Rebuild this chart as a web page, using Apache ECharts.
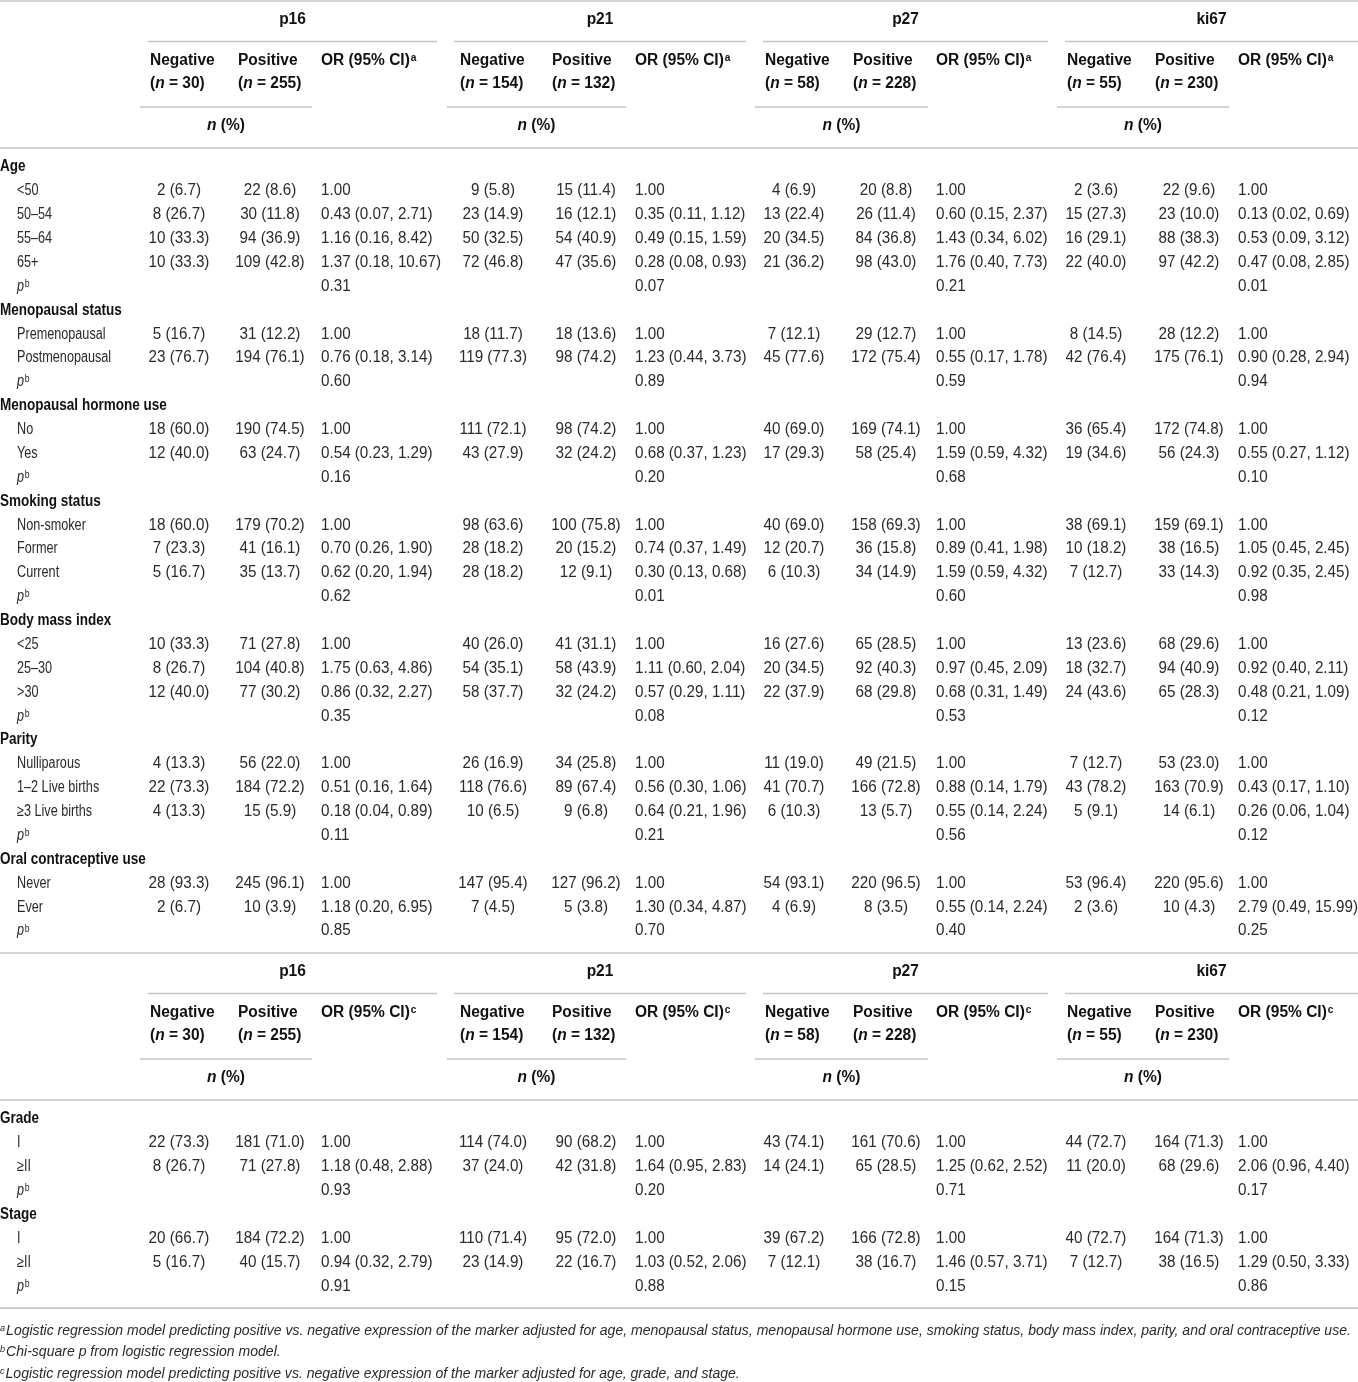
<!DOCTYPE html>
<html>
<head>
<meta charset="utf-8">
<script src="https://cdn.jsdelivr.net/npm/echarts@6/dist/echarts.min.js"></script>
<style>
html, body { margin: 0; padding: 0; background: #fff; }
#chart { width: 1358px; height: 1382px; }
</style>
</head>
<body>
<div id="chart"></div>
<script>
// ---- data ----
const markers = ['p16', 'p21', 'p27', 'ki67']
const negN = [30, 154, 58, 55]
const posN = [255, 132, 228, 230]

const groupNames = ['Age', 'Menopausal status', 'Menopausal hormone use', 'Smoking status',
	'Body mass index', 'Parity', 'Oral contraceptive use', 'Grade', 'Stage']

const rowsA = ['Age', '<50', '50–54', '55–64', '65+', 'p',
	'Menopausal status', 'Premenopausal', 'Postmenopausal', 'p',
	'Menopausal hormone use', 'No', 'Yes', 'p',
	'Smoking status', 'Non-smoker', 'Former', 'Current', 'p',
	'Body mass index', '<25', '25–30', '>30', 'p',
	'Parity', 'Nulliparous', '1–2 Live births', '≥3 Live births', 'p',
	'Oral contraceptive use', 'Never', 'Ever', 'p']
const rowsB = ['Grade', 'I', '≥II', 'p', 'Stage', 'I', '≥II', 'p']

const p16NegA = ['', '2 (6.7)', '8 (26.7)', '10 (33.3)', '10 (33.3)', '', '', '5 (16.7)', '23 (76.7)', '', '', '18 (60.0)', '12 (40.0)', '', '', '18 (60.0)', '7 (23.3)', '5 (16.7)', '', '', '10 (33.3)', '8 (26.7)', '12 (40.0)', '', '', '4 (13.3)', '22 (73.3)', '4 (13.3)', '', '', '28 (93.3)', '2 (6.7)', '']
const p16PosA = ['', '22 (8.6)', '30 (11.8)', '94 (36.9)', '109 (42.8)', '', '', '31 (12.2)', '194 (76.1)', '', '', '190 (74.5)', '63 (24.7)', '', '', '179 (70.2)', '41 (16.1)', '35 (13.7)', '', '', '71 (27.8)', '104 (40.8)', '77 (30.2)', '', '', '56 (22.0)', '184 (72.2)', '15 (5.9)', '', '', '245 (96.1)', '10 (3.9)', '']
const p16OrA = ['', '1.00', '0.43 (0.07, 2.71)', '1.16 (0.16, 8.42)', '1.37 (0.18, 10.67)', '0.31', '', '1.00', '0.76 (0.18, 3.14)', '0.60', '', '1.00', '0.54 (0.23, 1.29)', '0.16', '', '1.00', '0.70 (0.26, 1.90)', '0.62 (0.20, 1.94)', '0.62', '', '1.00', '1.75 (0.63, 4.86)', '0.86 (0.32, 2.27)', '0.35', '', '1.00', '0.51 (0.16, 1.64)', '0.18 (0.04, 0.89)', '0.11', '', '1.00', '1.18 (0.20, 6.95)', '0.85']

const p21NegA = ['', '9 (5.8)', '23 (14.9)', '50 (32.5)', '72 (46.8)', '', '', '18 (11.7)', '119 (77.3)', '', '', '111 (72.1)', '43 (27.9)', '', '', '98 (63.6)', '28 (18.2)', '28 (18.2)', '', '', '40 (26.0)', '54 (35.1)', '58 (37.7)', '', '', '26 (16.9)', '118 (76.6)', '10 (6.5)', '', '', '147 (95.4)', '7 (4.5)', '']
const p21PosA = ['', '15 (11.4)', '16 (12.1)', '54 (40.9)', '47 (35.6)', '', '', '18 (13.6)', '98 (74.2)', '', '', '98 (74.2)', '32 (24.2)', '', '', '100 (75.8)', '20 (15.2)', '12 (9.1)', '', '', '41 (31.1)', '58 (43.9)', '32 (24.2)', '', '', '34 (25.8)', '89 (67.4)', '9 (6.8)', '', '', '127 (96.2)', '5 (3.8)', '']
const p21OrA = ['', '1.00', '0.35 (0.11, 1.12)', '0.49 (0.15, 1.59)', '0.28 (0.08, 0.93)', '0.07', '', '1.00', '1.23 (0.44, 3.73)', '0.89', '', '1.00', '0.68 (0.37, 1.23)', '0.20', '', '1.00', '0.74 (0.37, 1.49)', '0.30 (0.13, 0.68)', '0.01', '', '1.00', '1.11 (0.60, 2.04)', '0.57 (0.29, 1.11)', '0.08', '', '1.00', '0.56 (0.30, 1.06)', '0.64 (0.21, 1.96)', '0.21', '', '1.00', '1.30 (0.34, 4.87)', '0.70']

const p27NegA = ['', '4 (6.9)', '13 (22.4)', '20 (34.5)', '21 (36.2)', '', '', '7 (12.1)', '45 (77.6)', '', '', '40 (69.0)', '17 (29.3)', '', '', '40 (69.0)', '12 (20.7)', '6 (10.3)', '', '', '16 (27.6)', '20 (34.5)', '22 (37.9)', '', '', '11 (19.0)', '41 (70.7)', '6 (10.3)', '', '', '54 (93.1)', '4 (6.9)', '']
const p27PosA = ['', '20 (8.8)', '26 (11.4)', '84 (36.8)', '98 (43.0)', '', '', '29 (12.7)', '172 (75.4)', '', '', '169 (74.1)', '58 (25.4)', '', '', '158 (69.3)', '36 (15.8)', '34 (14.9)', '', '', '65 (28.5)', '92 (40.3)', '68 (29.8)', '', '', '49 (21.5)', '166 (72.8)', '13 (5.7)', '', '', '220 (96.5)', '8 (3.5)', '']
const p27OrA = ['', '1.00', '0.60 (0.15, 2.37)', '1.43 (0.34, 6.02)', '1.76 (0.40, 7.73)', '0.21', '', '1.00', '0.55 (0.17, 1.78)', '0.59', '', '1.00', '1.59 (0.59, 4.32)', '0.68', '', '1.00', '0.89 (0.41, 1.98)', '1.59 (0.59, 4.32)', '0.60', '', '1.00', '0.97 (0.45, 2.09)', '0.68 (0.31, 1.49)', '0.53', '', '1.00', '0.88 (0.14, 1.79)', '0.55 (0.14, 2.24)', '0.56', '', '1.00', '0.55 (0.14, 2.24)', '0.40']

const ki67NegA = ['', '2 (3.6)', '15 (27.3)', '16 (29.1)', '22 (40.0)', '', '', '8 (14.5)', '42 (76.4)', '', '', '36 (65.4)', '19 (34.6)', '', '', '38 (69.1)', '10 (18.2)', '7 (12.7)', '', '', '13 (23.6)', '18 (32.7)', '24 (43.6)', '', '', '7 (12.7)', '43 (78.2)', '5 (9.1)', '', '', '53 (96.4)', '2 (3.6)', '']
const ki67PosA = ['', '22 (9.6)', '23 (10.0)', '88 (38.3)', '97 (42.2)', '', '', '28 (12.2)', '175 (76.1)', '', '', '172 (74.8)', '56 (24.3)', '', '', '159 (69.1)', '38 (16.5)', '33 (14.3)', '', '', '68 (29.6)', '94 (40.9)', '65 (28.3)', '', '', '53 (23.0)', '163 (70.9)', '14 (6.1)', '', '', '220 (95.6)', '10 (4.3)', '']
const ki67OrA = ['', '1.00', '0.13 (0.02, 0.69)', '0.53 (0.09, 3.12)', '0.47 (0.08, 2.85)', '0.01', '', '1.00', '0.90 (0.28, 2.94)', '0.94', '', '1.00', '0.55 (0.27, 1.12)', '0.10', '', '1.00', '1.05 (0.45, 2.45)', '0.92 (0.35, 2.45)', '0.98', '', '1.00', '0.92 (0.40, 2.11)', '0.48 (0.21, 1.09)', '0.12', '', '1.00', '0.43 (0.17, 1.10)', '0.26 (0.06, 1.04)', '0.12', '', '1.00', '2.79 (0.49, 15.99)', '0.25']

const p16NegB = ['', '22 (73.3)', '8 (26.7)', '', '', '20 (66.7)', '5 (16.7)', '']
const p16PosB = ['', '181 (71.0)', '71 (27.8)', '', '', '184 (72.2)', '40 (15.7)', '']
const p16OrB = ['', '1.00', '1.18 (0.48, 2.88)', '0.93', '', '1.00', '0.94 (0.32, 2.79)', '0.91']
const p21NegB = ['', '114 (74.0)', '37 (24.0)', '', '', '110 (71.4)', '23 (14.9)', '']
const p21PosB = ['', '90 (68.2)', '42 (31.8)', '', '', '95 (72.0)', '22 (16.7)', '']
const p21OrB = ['', '1.00', '1.64 (0.95, 2.83)', '0.20', '', '1.00', '1.03 (0.52, 2.06)', '0.88']
const p27NegB = ['', '43 (74.1)', '14 (24.1)', '', '', '39 (67.2)', '7 (12.1)', '']
const p27PosB = ['', '161 (70.6)', '65 (28.5)', '', '', '166 (72.8)', '38 (16.7)', '']
const p27OrB = ['', '1.00', '1.25 (0.62, 2.52)', '0.71', '', '1.00', '1.46 (0.57, 3.71)', '0.15']
const ki67NegB = ['', '44 (72.7)', '11 (20.0)', '', '', '40 (72.7)', '7 (12.7)', '']
const ki67PosB = ['', '164 (71.3)', '68 (29.6)', '', '', '164 (71.3)', '38 (16.5)', '']
const ki67OrB = ['', '1.00', '2.06 (0.96, 4.40)', '0.17', '', '1.00', '1.29 (0.50, 3.33)', '0.86']

const footnotes = [
	['a', 'Logistic regression model predicting positive vs. negative expression of the marker adjusted for age, menopausal status, menopausal hormone use, smoking status, body mass index, parity, and oral contraceptive use.'],
	['b', 'Chi-square p from logistic regression model.'],
	['c', 'Logistic regression model predicting positive vs. negative expression of the marker adjusted for age, grade, and stage.'],
]

// ---- layout (pixels in a 1358 x 1382 frame) ----
const W = 1358
const H = 1382
const FONT = '"Liberation Sans", Arial, Helvetica, sans-serif'
const ROW_H = 23.875
const groupLine = [[148, 437], [454, 746], [763, 1048], [1065, 1358]]
const subLine = [[140, 312], [447, 626], [755, 928], [1057, 1229]]
const negHeadX = [150, 460, 765, 1067]
const posHeadX = [238, 552, 853, 1155]
const orX = [321, 635, 936, 1238]
const negMidX = [179, 493, 794, 1096]
const posMidX = [270, 586, 886, 1189]

const sections = [
	{ top: 1, rows: rowsA, sup: 'a', cols: [[p16NegA, p16PosA, p16OrA], [p21NegA, p21PosA, p21OrA], [p27NegA, p27PosA, p27OrA], [ki67NegA, ki67PosA, ki67OrA]] },
	{ top: 953, rows: rowsB, sup: 'c', cols: [[p16NegB, p16PosB, p16OrB], [p21NegB, p21PosB, p21OrB], [p27NegB, p27PosB, p27OrB], [ki67NegB, ki67PosB, ki67OrB]] },
]

const cells = []
const rules = []

function addText(x, y, text, kind, align) {
	cells.push({ x, y, text, kind, align: align || 'left' })
}

sections.forEach((sec) => {
	const t = sec.top
	rules.push([0, t, W])
	markers.forEach((m, k) => {
		const g = groupLine[k]
		const s = subLine[k]
		addText((g[0] + g[1]) / 2, t + 19, m, 'title', 'center')
		rules.push([g[0], t + 40.5, g[1]])
		addText(negHeadX[k], t + 60, 'Negative', 'colhead')
		addText(posHeadX[k], t + 60, 'Positive', 'colhead')
		addText(orX[k], t + 60, 'OR (95% CI){bsup|' + sec.sup + '}', 'colhead')
		addText(negHeadX[k], t + 83, '({bi|n} = ' + negN[k] + ')', 'colhead')
		addText(posHeadX[k], t + 83, '({bi|n} = ' + posN[k] + ')', 'colhead')
		rules.push([s[0], t + 106, s[1]])
		addText((s[0] + s[1]) / 2, t + 125, '{bi|n} (%)', 'colhead', 'center')
	})
	rules.push([0, t + 147, W])
	const first = t + 166
	sec.rows.forEach((label, i) => {
		const y = first + i * ROW_H
		if (groupNames.indexOf(label) >= 0) {
			addText(0, y, label, 'group')
		} else if (label === 'p') {
			addText(17, y, '{i|p}{sup|b}', 'label')
		} else {
			addText(17, y, label, 'label')
		}
		sec.cols.forEach((c, k) => {
			if (c[0][i]) addText(negMidX[k], y, c[0][i], 'num', 'center')
			if (c[1][i]) addText(posMidX[k], y, c[1][i], 'num', 'center')
			if (c[2][i]) addText(orX[k], y, c[2][i], 'num')
		})
	})
	sec.end = first + (sec.rows.length - 1) * ROW_H + 22
})
rules.push([0, sections[1].end, W])

const footY = [1331, 1352, 1374]
footnotes.forEach((f, i) => {
	addText(0, footY[i], '{fsup|' + f[0] + '}' + f[1], 'foot')
})

// condensed look: taller type squeezed horizontally
const kinds = {
	title: { size: 16, weight: 'bold', style: 'normal', fill: '#111', sx: 0.97 },
	colhead: { size: 16, weight: 'bold', style: 'normal', fill: '#111', sx: 0.97 },
	group: { size: 16, weight: 'bold', style: 'normal', fill: '#111', sx: 0.845 },
	label: { size: 16, weight: 'normal', style: 'normal', fill: '#2a2a2a', sx: 0.79 },
	num: { size: 16, weight: 'normal', style: 'normal', fill: '#2a2a2a', sx: 0.95 },
	foot: { size: 14.5, weight: 'normal', style: 'italic', fill: '#2a2a2a', sx: 0.968 },
}

function tok(size, weight, style, fill, extra) {
	return Object.assign({ fontFamily: FONT, fontSize: size, fontWeight: weight, fontStyle: style, fill: fill }, extra || {})
}

function renderText(params, api) {
	const c = cells[params.dataIndex]
	const k = kinds[c.kind]
	const pt = api.coord([api.value(0), api.value(1)])
	return {
		type: 'text',
		x: pt[0],
		y: pt[1],
		scaleX: k.sx,
		silent: true,
		style: {
			text: c.text,
			fontFamily: FONT,
			fontSize: k.size,
			fontWeight: k.weight,
			fontStyle: k.style,
			fill: k.fill,
			align: c.align,
			verticalAlign: 'middle',
			rich: {
				i: tok(k.size, 'normal', 'italic', k.fill),
				bi: tok(k.size, 'bold', 'italic', k.fill),
				sup: tok(11, 'normal', 'normal', k.fill, { verticalAlign: 'top', padding: [0, 0, 0, 1] }),
				bsup: tok(10.5, 'bold', 'normal', k.fill, { verticalAlign: 'top', padding: [0, 0, 0, 1] }),
				fsup: tok(9.5, 'normal', 'italic', k.fill, { verticalAlign: 'top', padding: [0, 1, 0, 0] }),
			},
		},
	}
}

function renderRule(params, api) {
	const a = api.coord([api.value(0), api.value(1)])
	const b = api.coord([api.value(2), api.value(1)])
	return {
		type: 'line',
		silent: true,
		shape: { x1: a[0], y1: a[1], x2: b[0], y2: b[1] },
		style: { stroke: '#c4c4c4', lineWidth: 1.6 },
	}
}

const chart = echarts.init(document.getElementById('chart'), null, { renderer: 'canvas' })
chart.setOption({
	backgroundColor: '#fff',
	animation: false,
	grid: { left: 0, right: 0, top: 0, bottom: 0 },
	xAxis: { type: 'value', min: 0, max: W, show: false },
	yAxis: { type: 'value', min: 0, max: H, inverse: true, show: false },
	series: [
		{
			type: 'custom',
			name: 'rules',
			clip: false,
			encode: { x: 0, y: 1 },
			data: rules,
			renderItem: renderRule,
		},
		{
			type: 'custom',
			name: 'cells',
			clip: false,
			encode: { x: 0, y: 1 },
			data: cells.map((c) => [c.x, c.y]),
			renderItem: renderText,
		},
	],
})
</script>
</body>
</html>
